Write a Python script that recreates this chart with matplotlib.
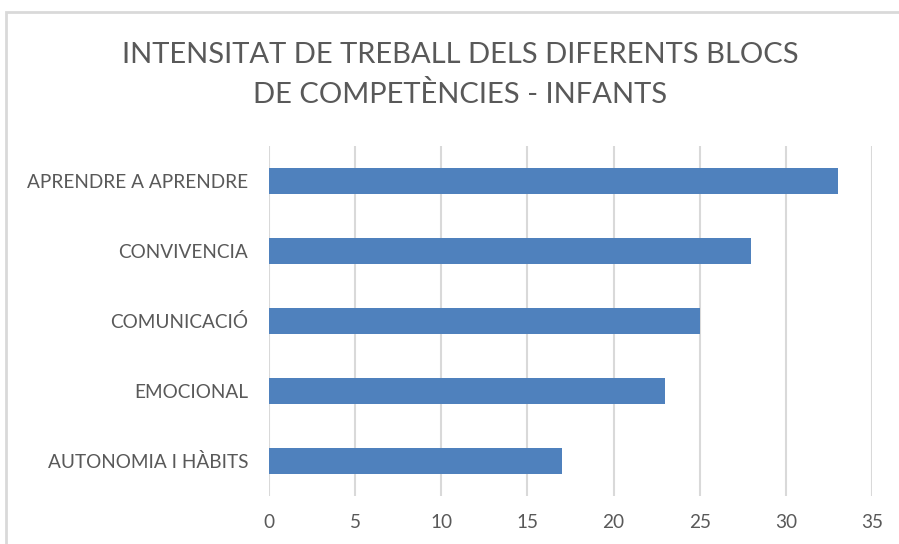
import matplotlib.pyplot as plt
from matplotlib.patches import Rectangle

# --- data ---
categories = ["APRENDRE A APRENDRE", "CONVIVENCIA", "COMUNICACIÓ", "EMOCIONAL", "AUTONOMIA I HÀBITS"]
values = [33, 28, 25, 23, 17]
x_ticks = [0, 5, 10, 15, 20, 25, 30, 35]
title = "INTENSITAT DE TREBALL DELS DIFERENTS BLOCS\nDE COMPETÈNCIES - INFANTS"

TEXT_COLOR = "#595959"
BAR_COLOR = "#4F81BD"
GRID_COLOR = "#D9D9D9"

plt.rcParams['font.family'] = ['Lato', 'DejaVu Sans']

W, H = 899, 544
fig = plt.figure(figsize=(W / 100, H / 100), dpi=100)

# chart frame (cropped on right/bottom in the reference)
fig.add_artist(Rectangle((6 / W, -0.1), 1.2, 1 - 12 / H + 0.1, transform=fig.transFigure,
                         fill=False, edgecolor=GRID_COLOR, lw=2))

ax = fig.add_axes([269 / W, 1 - 496 / H, (872 - 269) / W, (496 - 146) / H])
ypos = list(range(len(categories)))[::-1]
ax.barh(ypos, values, height=0.37, color=BAR_COLOR, zorder=3)
ax.set_ylim(-0.5, len(categories) - 0.5)
ax.set_xlim(0, 35)
ax.set_xticks(x_ticks)
ax.set_yticks(ypos)
ax.set_yticklabels(categories)
ax.grid(axis='x', color=GRID_COLOR, lw=1.5, zorder=0)
for s in ax.spines.values():
    s.set_visible(False)
ax.tick_params(length=0, labelsize=13.7, colors=TEXT_COLOR)
ax.tick_params(axis='x', pad=13)
ax.tick_params(axis='y', pad=15)

fig.text(460 / W, 1 - 75 / H, title, ha='center', va='center', fontsize=21,
         color=TEXT_COLOR, linespacing=1.55)

fig.savefig("out.png", dpi=100)
